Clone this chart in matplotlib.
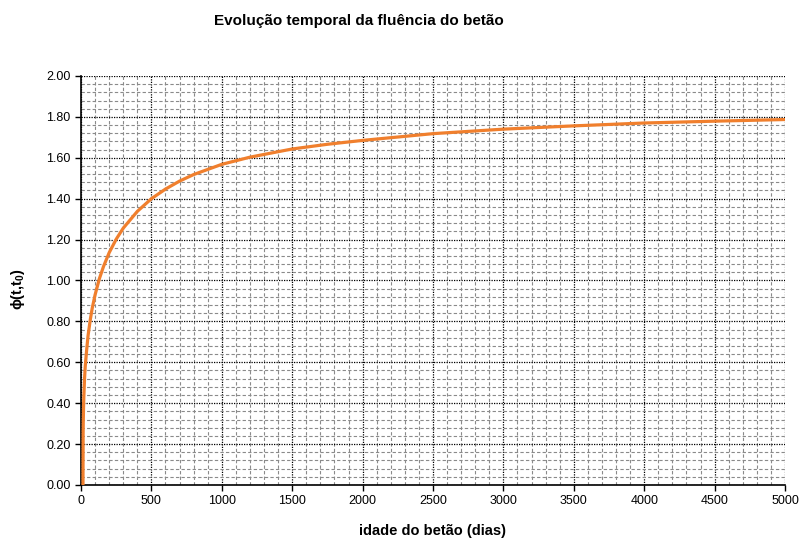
import matplotlib.pyplot as plt
from matplotlib.ticker import MultipleLocator, FormatStrFormatter
import numpy as np

plt.rcParams["font.family"] = ["Liberation Sans", "DejaVu Sans"]
plt.rcParams["mathtext.fontset"] = "custom"
plt.rcParams["mathtext.rm"] = "Liberation Sans"
plt.rcParams["mathtext.bf"] = "Liberation Sans:bold"

# idade do betão (dias) e coeficiente de fluência
idade = [14, 15, 16, 18, 20, 25, 30, 40, 50, 65, 80, 100, 130, 160, 200,
         250, 300, 400, 500, 600, 700, 800, 1000, 1200, 1500, 1750, 2000,
         2500, 3000, 3500, 4000, 4500, 5000]
fluencia = [0.00, 0.25, 0.31, 0.38, 0.43, 0.52, 0.58, 0.66, 0.73, 0.805,
            0.866, 0.93, 1.008, 1.069, 1.136, 1.202, 1.256, 1.338, 1.40,
            1.447, 1.486, 1.518, 1.568, 1.603, 1.643, 1.666, 1.685, 1.718,
            1.740, 1.756, 1.770, 1.779, 1.787]

x_ticks = np.arange(0, 5001, 500)

fig = plt.figure(figsize=(7.99, 5.45), dpi=100)
ax = fig.add_axes([0.1014, 0.1101, 0.8811, 0.7505])

ax.plot(idade, fluencia, color="#F07F2D", linewidth=2.3, zorder=3)

ax.set_xlim(0, 5000)
ax.set_ylim(0, 2.0)
ax.set_xticks(x_ticks)
ax.xaxis.set_minor_locator(MultipleLocator(100))
ax.yaxis.set_major_locator(MultipleLocator(0.2))
ax.yaxis.set_minor_locator(MultipleLocator(0.04))
ax.yaxis.set_major_formatter(FormatStrFormatter("%.2f"))

ax.grid(which="minor", color="#8a8a8a", linestyle=(0, (3, 2)), linewidth=0.8)
ax.grid(which="major", color="black", linestyle=(0, (1, 1)), linewidth=0.9)
ax.set_axisbelow(True)

for side in ["top", "right"]:
    ax.spines[side].set_visible(False)
for side in ["left", "bottom"]:
    ax.spines[side].set_linewidth(1.2)

ax.tick_params(which="major", direction="out", length=4, width=1, labelsize=9,
               colors="black")
ax.tick_params(which="minor", length=0)

fig.text(0.541, 0.013, "idade do betão (dias)", fontsize=10.5, fontweight="bold",
         ha="center", va="bottom")
fig.text(0.023, 0.47, r"$\mathbf{\phi(t{,}t_0)}$", fontsize=10.5, rotation=90,
         ha="center", va="center")

fig.text(0.449, 0.962, "Evolução temporal da fluência do betão", fontsize=11,
         fontweight="bold", ha="center", va="center")

fig.savefig("out.png", dpi=100)
